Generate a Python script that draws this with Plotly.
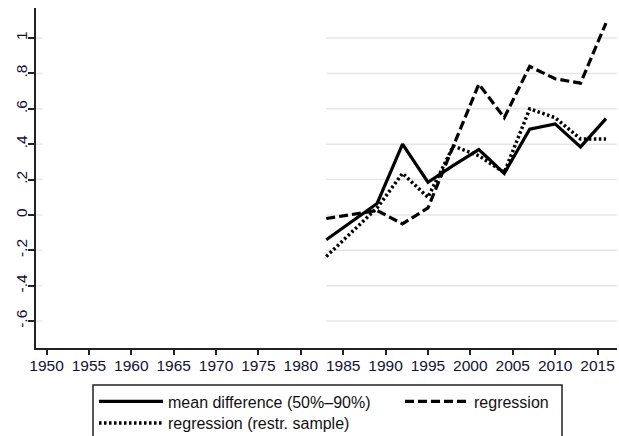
import plotly.graph_objects as go

years = [1983, 1989, 1992, 1995, 1998, 2001, 2004, 2007, 2010, 2013, 2016]
mean_diff = [-0.14, 0.065, 0.40, 0.185, 0.28, 0.37, 0.235, 0.485, 0.515, 0.385, 0.545]
regression = [-0.02, 0.025, -0.05, 0.04, 0.39, 0.74, 0.55, 0.84, 0.77, 0.745, 1.085]
regression_restr = [-0.235, 0.04, 0.235, 0.10, 0.39, 0.335, 0.24, 0.60, 0.55, 0.43, 0.43]

x_ticks = list(range(1950, 2016, 5))
y_ticks = [-0.6, -0.4, -0.2, 0, 0.2, 0.4, 0.6, 0.8, 1]
y_labels = ["-.6", "-.4", "-.2", "0", ".2", ".4", ".6", ".8", "1"]

FONT = "Liberation Sans, Arial, sans-serif"
x_range = [1948.76, 2017.3]
y_range = [-0.752, 1.17]

# plot area geometry (pixels)
L, R, T, B = 36, 2, 8, 88
W, H = 619, 436
pw, ph = W - L - R, H - T - B


def px_x(p):
    return (p - L) / pw


def px_y(p):
    return (H - B - p) / ph


fig = go.Figure()
fig.add_trace(go.Scatter(x=years, y=mean_diff, mode="lines",
                         name="mean difference (50%\u201390%)",
                         line=dict(color="black", width=3.2, dash="solid"),
                         legend="legend"))
fig.add_trace(go.Scatter(x=years, y=regression, mode="lines",
                         name="regression",
                         line=dict(color="black", width=3.2, dash="9px,4px"),
                         legend="legend2"))
fig.add_trace(go.Scatter(x=years, y=regression_restr, mode="lines",
                         name="regression (restr. sample)",
                         line=dict(color="black", width=3.5, dash="2.5px,2.5px"),
                         legend="legend3"))

shapes = []
for v in y_ticks:
    shapes.append(dict(type="line", xref="x", yref="y", x0=1983, x1=x_range[1],
                       y0=v, y1=v, line=dict(color="#e6e6e6", width=1.5), layer="below"))
    shapes.append(dict(type="line", xref="paper", yref="y", x0=0, x1=0.011,
                       y0=v, y1=v, line=dict(color="#e6e6e6", width=1.5), layer="below"))
# legend frame
shapes.append(dict(type="rect", xref="paper", yref="paper",
                   x0=px_x(93), x1=px_x(562), y0=px_y(385), y1=px_y(445),
                   line=dict(color="#222222", width=1.5), fillcolor="rgba(0,0,0,0)"))

legend_common = dict(xanchor="left", yanchor="top", borderwidth=0,
                     bgcolor="rgba(0,0,0,0)", itemwidth=64, orientation="v",
                     font=dict(family=FONT, size=16, color="#111111"),
                     traceorder="normal", tracegroupgap=0)

fig.update_layout(
    width=W, height=H,
    margin=dict(l=L, r=R, t=T, b=B, autoexpand=False),
    plot_bgcolor="white", paper_bgcolor="white",
    font=dict(family=FONT, size=15, color="#111111"),
    shapes=shapes,
    showlegend=True,
    legend=dict(x=px_x(94), y=px_y(384.5), **legend_common),
    legend2=dict(x=px_x(400), y=px_y(384.5), **legend_common),
    legend3=dict(x=px_x(94), y=px_y(406), **legend_common),
    xaxis=dict(range=x_range, tickvals=x_ticks, ticks="outside", ticklen=5,
               tickwidth=1.5, tickcolor="#222222", showline=True, linecolor="#222222",
               linewidth=1.5, showgrid=False, zeroline=False, automargin=False,
               ticklabelstandoff=-2,
               tickfont=dict(family=FONT, size=15.5, color="#111133")),
    yaxis=dict(range=y_range, tickvals=y_ticks, ticktext=y_labels, tickangle=-90,
               ticks="outside", ticklen=6, tickwidth=1.5, tickcolor="#222222",
               showline=True, linecolor="#222222", linewidth=1.5, showgrid=False,
               zeroline=False, automargin=False, ticklabelstandoff=-5,
               tickfont=dict(family=FONT, size=15.5, color="#111133")),
)

fig.write_html("out.html",
               config={"displayModeBar": False},
               post_script="document.body.style.margin='0';document.body.style.overflow='hidden';")
